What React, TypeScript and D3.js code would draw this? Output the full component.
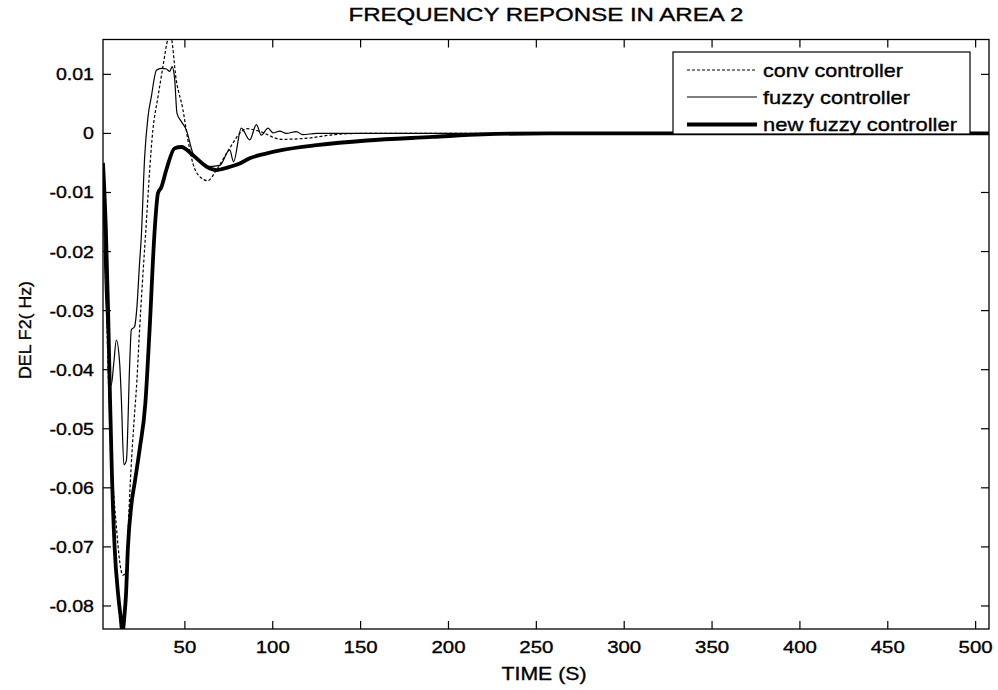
import React, { useEffect, useRef } from 'react';
import * as d3 from 'd3';

const seriesNames = ['conv controller', 'fuzzy controller', 'new fuzzy controller'];

const convT = [3.4, 4.5, 5.3, 6.2, 7.2, 8.3, 9.5, 11.0, 12.9, 14.7, 16.7, 18.0, 19.5, 21.0, 22.7, 24.2, 27.4, 31.8, 34.7, 37.5, 40.4, 41.8, 45.1, 48.9, 51.7, 54.6, 58.4, 63.1, 67.9, 75.5, 81.2, 85, 92, 105, 120, 135, 150, 200, 300, 400, 507.6];
const convV = [-0.008, -0.016, -0.0277, -0.039, -0.048, -0.055, -0.061, -0.0665, -0.0725, -0.0748, -0.074, -0.065, -0.056, -0.049, -0.0418, -0.0333, -0.0181, 0.0006, 0.0062, 0.0113, 0.016, 0.0166, 0.009, 0.004, -0.0011, -0.0051, -0.0073, -0.008, -0.0062, -0.0025, 0.0, 0.0008, 0.0004, -0.001, -0.0008, -0.0002, 0, 0, 0, 0, 0];

const fuzzyT = [3.4, 4.3, 6.0, 8.1, 9.5, 11.0, 12.9, 13.8, 15.3, 16.7, 18.6, 19.5, 21.4, 22.7, 24.2, 25.2, 27.1, 29.0, 30.9, 33.8, 36.5, 39.5, 41.4, 42.7, 44.2, 45.5, 48.0, 50.8, 54.6, 58.4, 62.2, 69.8, 75.5, 77.7, 82.1, 86.9, 90.7, 93.5, 97.3, 100.1, 104, 107.7, 113.4, 117, 125, 200, 300, 400, 507.6];
const fuzzyV = [-0.008, -0.022, -0.034, -0.0426, -0.039, -0.035, -0.039, -0.0446, -0.0561, -0.0554, -0.0389, -0.0333, -0.0327, -0.0294, -0.022, -0.0175, -0.004, 0.0028, 0.0062, 0.0107, 0.011, 0.0109, 0.0105, 0.0113, 0.0091, 0.0034, 0.002, 0.0006, -0.0034, -0.0048, -0.0056, -0.0054, -0.0028, -0.0048, 0.0009, -0.0011, 0.0015, -0.0003, 0.0009, 0.0001, 0.0004, 0.0, 0.0003, -0.0002, 0, 0, 0, 0, 0];

const newT = [3.4, 5.0, 6.3, 7.4, 8.5, 10.0, 12.0, 13.3, 14.5, 15.5, 16.5, 17.6, 19.5, 21.5, 24.2, 27.5, 29.9, 32.8, 34.7, 36.6, 39.4, 44.2, 48.0, 54.6, 62.2, 67.9, 75, 81.2, 86.9, 95, 105.6, 125, 153.5, 191, 219.5, 257, 300, 400, 507.6];
const newV = [-0.005, -0.016, -0.03, -0.045, -0.058, -0.07, -0.078, -0.0815, -0.0845, -0.082, -0.078, -0.07, -0.063, -0.059, -0.0536, -0.0457, -0.0333, -0.0164, -0.0101, -0.0091, -0.0062, -0.0025, -0.0023, -0.0037, -0.0056, -0.0062, -0.0057, -0.0051, -0.0042, -0.0035, -0.0028, -0.002, -0.0012, -0.0006, -0.00015, 0, 0, 0, 0];

const xTicks = [50, 100, 150, 200, 250, 300, 350, 400, 450, 500];
const yTicks = [0.01, 0, -0.01, -0.02, -0.03, -0.04, -0.05, -0.06, -0.07, -0.08];
const yTickLabels = ['0.01', '0', '-0.01', '-0.02', '-0.03', '-0.04', '-0.05', '-0.06', '-0.07', '-0.08'];

const FONT = '"Liberation Sans", Arial, Helvetica, sans-serif';

export default function App() {
  const ref = useRef<SVGSVGElement>(null);
  useEffect(() => {
    const svg = d3.select(ref.current);
    svg.selectAll('*').remove();
    const L = 103, R = 989, T = 39.5, B = 629;
    const x = d3.scaleLinear().domain([3.4, 507.6]).range([L, R]);
    const y = d3.scaleLinear().domain([-0.0839, 0.0159]).range([B, T]);

    svg.append('rect').attr('width', 998).attr('height', 690).attr('fill', '#fff');

    svg.append('clipPath').attr('id', 'plotclip').append('rect')
      .attr('x', L).attr('y', T).attr('width', R - L).attr('height', B - T);

    const line = d3.line<[number, number]>()
      .x(d => x(d[0])).y(d => y(d[1])).curve(d3.curveMonotoneX);

    const g = svg.append('g').attr('clip-path', 'url(#plotclip)');
    const series = [
      { t: convT, v: convV, w: 1.2, dash: '3,2' },
      { t: fuzzyT, v: fuzzyV, w: 1.2, dash: null },
      { t: newT, v: newV, w: 3.8, dash: null },
    ];
    series.forEach(s => {
      const pts = s.t.map((t, i) => [t, s.v[i]] as [number, number]);
      g.append('path').attr('d', line(pts) as string)
        .attr('fill', 'none').attr('stroke', '#000')
        .attr('stroke-width', s.w)
        .attr('stroke-linejoin', 'round')
        .attr('stroke-dasharray', s.dash);
    });

    svg.append('rect').attr('x', L).attr('y', T).attr('width', R - L).attr('height', B - T)
      .attr('fill', 'none').attr('stroke', '#000').attr('stroke-width', 1.3);

    const tl = 8;
    const axes = svg.append('g').attr('stroke', '#000').attr('stroke-width', 1.2);
    xTicks.forEach(t => {
      axes.append('line').attr('x1', x(t)).attr('x2', x(t)).attr('y1', B).attr('y2', B - tl);
      axes.append('line').attr('x1', x(t)).attr('x2', x(t)).attr('y1', T).attr('y2', T + tl);
    });
    yTicks.forEach(v => {
      axes.append('line').attr('x1', L).attr('x2', L + tl).attr('y1', y(v)).attr('y2', y(v));
      axes.append('line').attr('x1', R).attr('x2', R - tl).attr('y1', y(v)).attr('y2', y(v));
    });

    const txt = (sel: any) => sel.attr('font-family', FONT).attr('fill', '#000')
      .attr('stroke', '#000').attr('stroke-width', 0.35);

    const stretch: [any, number][] = [];
    xTicks.forEach(t => {
      const tx = txt(svg.append('text')).attr('x', x(t)).attr('y', 653).attr('text-anchor', 'middle')
        .attr('font-size', 17).text(String(t));
      stretch.push([tx, 1.2]);
    });
    yTicks.forEach((v, i) => {
      const tx = txt(svg.append('text')).attr('x', 94).attr('y', y(v) + 6).attr('text-anchor', 'end')
        .attr('font-size', 17).text(yTickLabels[i]);
      stretch.push([tx, 1.15]);
    });
    stretch.forEach(([sel, f]) => {
      const node = sel.node() as SVGTextElement;
      const len = node.getComputedTextLength();
      sel.attr('textLength', len * f).attr('lengthAdjust', 'spacingAndGlyphs');
    });

    txt(svg.append('text')).attr('x', (L + R) / 2).attr('y', 21).attr('text-anchor', 'middle')
      .attr('font-size', 18)
      .attr('textLength', 395).attr('lengthAdjust', 'spacingAndGlyphs')
      .text('FREQUENCY REPONSE IN AREA 2');

    txt(svg.append('text')).attr('x', 544).attr('y', 680).attr('text-anchor', 'middle')
      .attr('font-size', 18.5)
      .attr('textLength', 85).attr('lengthAdjust', 'spacingAndGlyphs')
      .text('TIME (S)');

    txt(svg.append('text')).attr('transform', 'translate(31,330) rotate(-90)').attr('text-anchor', 'middle')
      .attr('font-size', 17)
      .attr('textLength', 98).attr('lengthAdjust', 'spacingAndGlyphs')
      .text('DEL F2( Hz)');

    const lg = svg.append('g');
    lg.append('rect').attr('x', 673).attr('y', 52).attr('width', 297).attr('height', 82)
      .attr('fill', '#fff').attr('stroke', '#000').attr('stroke-width', 1.2);
    const rowsY = [70, 97, 124.5];
    const widths = [140, 147, 194];
    seriesNames.forEach((name, i) => {
      const s = series[i];
      lg.append('line').attr('x1', 687).attr('x2', 757).attr('y1', rowsY[i]).attr('y2', rowsY[i])
        .attr('stroke', '#000').attr('stroke-width', s.w).attr('stroke-dasharray', s.dash);
      txt(lg.append('text')).attr('x', 763).attr('y', rowsY[i] + 6.5)
        .attr('font-size', 19)
        .attr('textLength', widths[i]).attr('lengthAdjust', 'spacingAndGlyphs')
        .text(name);
    });
  }, []);
  return <svg ref={ref} width={998} height={690} style={{ position: 'absolute', left: 0, top: 0 }} />;
}
